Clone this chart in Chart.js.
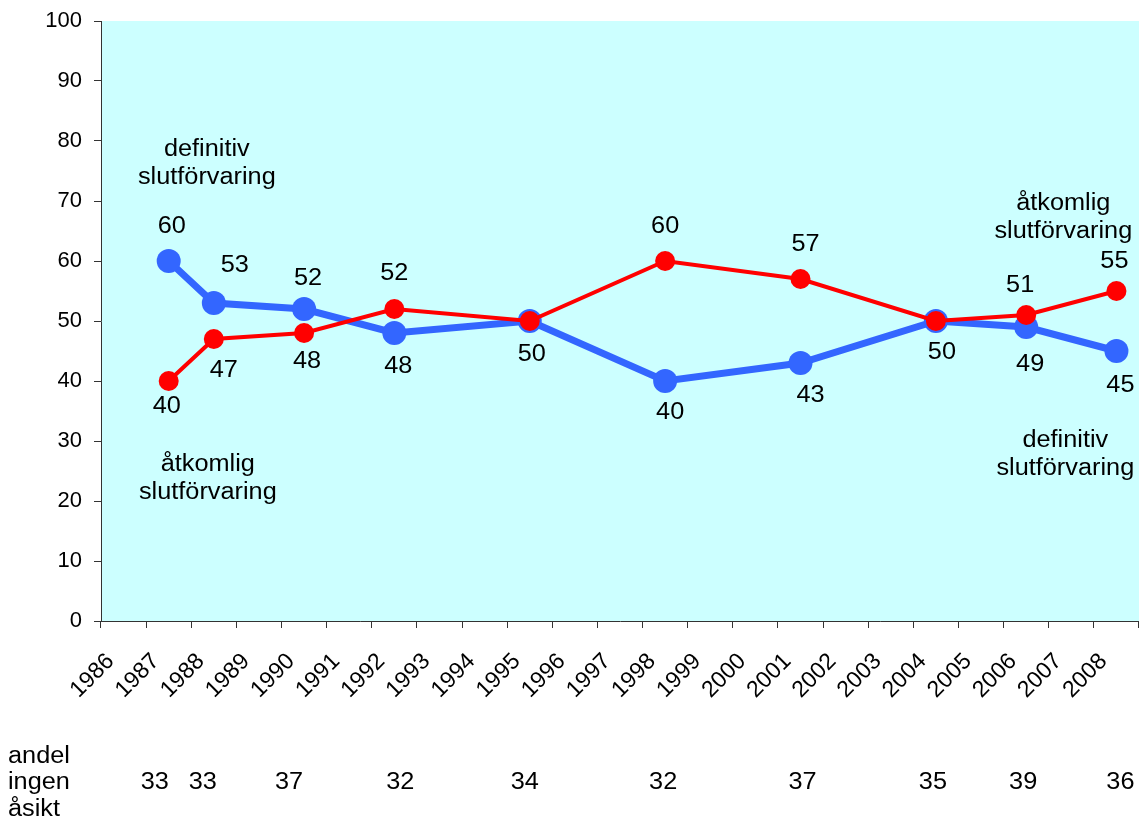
<!DOCTYPE html>
<html>
<head>
<meta charset="utf-8">
<script src="https://cdn.jsdelivr.net/npm/chart.js@4.4.1/dist/chart.umd.min.js"></script>
<style>
  body{margin:0;background:#fff;}
  #wrap{width:1139px;height:821px;position:relative;}
</style>
</head>
<body>
<div id="wrap"><canvas id="opinion"></canvas></div>
<script>
// ********* data *********

const axisYears = ['1986','1987','1988','1989','1990','1991','1992','1993','1994','1995','1996','1997',
                   '1998','1999','2000','2001','2002','2003','2004','2005','2006','2007','2008'];
const surveyYears = ['1987','1988','1990','1992','1995','1998','2001','2004','2006','2008'];
const definitiv = [60, 53, 52, 48, 50, 40, 43, 50, 49, 45];
const atkomlig  = [40, 47, 48, 52, 50, 60, 57, 50, 51, 55];
const ingenAsikt = [33, 33, 37, 32, 34, 32, 37, 35, 39, 36];

// ********* label placement (px nudges from each point) *********

const defLabelPos = [[3,-34],[21,-37],[4,-30],[4,34],[2,34],[5,32],[10,33],[6,32],[4,38],[4,35]];
const atkLabelPos = [[-2,26],[10,32],[3,29],[0,-35],null,[0,-34],[5,-34],null,[-6,-29],[-2,-29]];
const asiktNudge  = [-14,-11,-15,6,-5,-2,2,-3,-3,4];

const notes = [
  {lines:['definitiv','slutförvaring'], year:'1988', dx:-7, value:76.2},
  {lines:['åtkomlig','slutförvaring'],  year:'1988', dx:-6, value:23.7},
  {lines:['åtkomlig','slutförvaring'],  year:'2007', dx:-8, value:67.2},
  {lines:['definitiv','slutförvaring'], year:'2007', dx:-6, value:27.8}
];

const FONT = "'Liberation Sans', Arial, sans-serif";

function wideText(ctx, txt, x, y, align){
  ctx.save();
  ctx.translate(x, y);
  ctx.scale(1.1, 1);
  ctx.textAlign = align || 'center';
  ctx.textBaseline = 'middle';
  ctx.fillText(txt, 0, 0);
  ctx.restore();
}

// ********* plot background + texts *********

const cyanArea = {
  id:'cyanArea',
  beforeDraw(chart){
    const a = chart.chartArea, ctx = chart.ctx;
    ctx.save();
    ctx.fillStyle = '#CCFFFF';
    ctx.fillRect(a.left, a.top, a.right - a.left, a.bottom - a.top);
    ctx.restore();
  }
};

const texts = {
  id:'texts',
  afterDatasetsDraw(chart){
    const ctx = chart.ctx, x = chart.scales.x, y = chart.scales.y;
    ctx.save();
    ctx.fillStyle = '#000';
    ctx.font = '23px ' + FONT;

    surveyYears.forEach((yr, i) => {
      const px = x.getPixelForValue(x.getLabels().indexOf(yr));
      const d = defLabelPos[i];
      if (d) wideText(ctx, String(definitiv[i]), px + d[0], y.getPixelForValue(definitiv[i]) + d[1]);
      const r = atkLabelPos[i];
      if (r) wideText(ctx, String(atkomlig[i]), px + r[0], y.getPixelForValue(atkomlig[i]) + r[1]);
      // andel ingen åsikt row
      wideText(ctx, String(ingenAsikt[i]), px + asiktNudge[i], 783);
    });

    notes.forEach(n => {
      const px = x.getPixelForValue(x.getLabels().indexOf(n.year)) + n.dx;
      const py = y.getPixelForValue(n.value);
      wideText(ctx, n.lines[0], px, py - 14);
      wideText(ctx, n.lines[1], px, py + 14);
    });

    wideText(ctx, 'andel', 8, 757, 'left');
    wideText(ctx, 'ingen', 8, 783, 'left');
    wideText(ctx, 'åsikt', 8, 810, 'left');
    ctx.restore();
  }
};

const ctx = document.getElementById('opinion').getContext('2d');
const chart = new Chart(ctx, {
  type:'line',
  data:{
    labels: axisYears,
    datasets:[
      {
        label:'åtkomlig slutförvaring',
        data: surveyYears.map((yr, i) => ({x: yr, y: atkomlig[i]})),
        borderColor:'#FF0000',
        backgroundColor:'#FF0000',
        borderWidth:4,
        pointRadius:10,
        pointBorderWidth:0,
        tension:0
      },
      {
        label:'definitiv slutförvaring',
        data: surveyYears.map((yr, i) => ({x: yr, y: definitiv[i]})),
        borderColor:'#3366FF',
        backgroundColor:'#3366FF',
        borderWidth:7,
        pointRadius:12,
        pointBorderWidth:0,
        tension:0
      }
    ]
  },
  options:{
    responsive:true,
    maintainAspectRatio:false,
    animation:false,
    layout:{autoPadding:false, padding:{top:21, right:0, bottom:0, left:0}},
    plugins:{legend:{display:false}, tooltip:{enabled:false}},
    scales:{
      x:{
        type:'category',
        offset:true,
        grid:{display:true, offset:true, drawOnChartArea:false, color:'#333', tickLength:7},
        border:{display:true, color:'#333', width:1},
        ticks:{
          color:'#000',
          font:{family:FONT, size:23},
          minRotation:45, maxRotation:45,
          autoSkip:false,
          labelOffset:-13,
          padding:20
        },
        afterFit(scale){
          scale.height = 200;
          scale.paddingLeft = 0;
          scale.paddingRight = 0;
        }
      },
      y:{
        min:0, max:100,
        grid:{display:true, drawOnChartArea:false, color:'#333', tickLength:7},
        border:{display:true, color:'#333', width:1},
        ticks:{
          stepSize:10,
          color:'#000',
          font:{family:FONT, size:22},
          padding:12
        },
        afterFit(scale){
          scale.width = 101;
          scale.paddingTop = 0;
          scale.paddingBottom = 0;
        }
      }
    }
  },
  plugins:[cyanArea, texts]
});
</script>
</body>
</html>
